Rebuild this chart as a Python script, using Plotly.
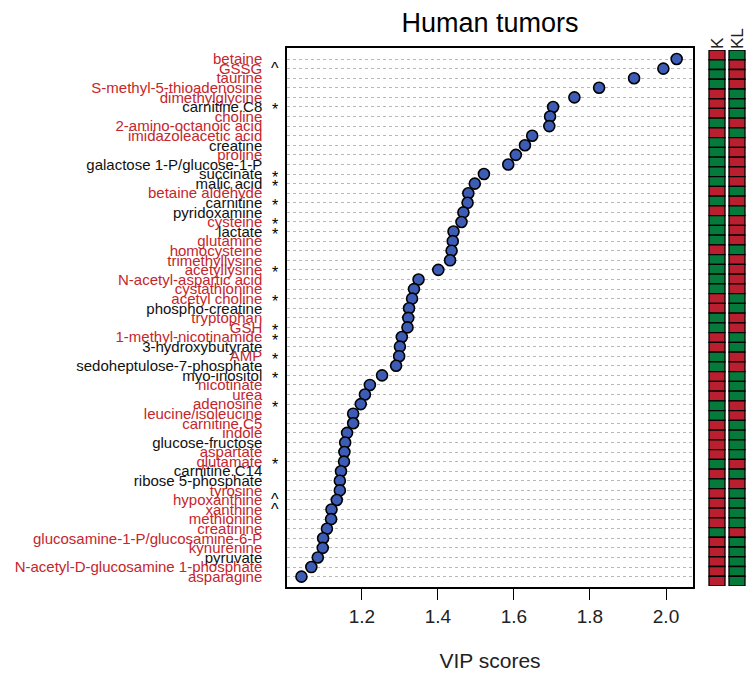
import plotly.graph_objects as go

# ---------------- data ----------------
metabolites = [
    "betaine", "GSSG", "taurine", "S-methyl-5-thioadenosine", "dimethylglycine",
    "carnitine.C8", "choline", "2-amino-octanoic acid", "imidazoleacetic acid", "creatine",
    "proline", "galactose 1-P/glucose-1-P", "succinate", "malic acid", "betaine aldehyde",
    "carnitine", "pyridoxamine", "cysteine", "lactate", "glutamine",
    "homocysteine", "trimethyllysine", "acetyllysine", "N-acetyl-aspartic acid", "cystathionine",
    "acetyl choline", "phospho-creatine", "tryptophan", "GSH", "1-methyl-nicotinamide",
    "3-hydroxybutyrate", "AMP", "sedoheptulose-7-phosphate", "myo-inositol", "nicotinate",
    "urea", "adenosine", "leucine/isoleucine", "carnitine.C5", "indole",
    "glucose-fructose", "aspartate", "glutamate", "carnitine.C14", "ribose 5-phosphate",
    "tyrosine", "hypoxanthine", "xanthine", "methionine", "creatinine",
    "glucosamine-1-P/glucosamine-6-P", "kynurenine", "pyruvate",
    "N-acetyl-D-glucosamine 1-phosphate", "asparagine",
]

vip_scores = [
    2.028, 1.993, 1.916, 1.824, 1.759,
    1.703, 1.695, 1.693, 1.648, 1.629,
    1.605, 1.585, 1.521, 1.497, 1.480,
    1.478, 1.467, 1.462, 1.441, 1.439,
    1.436, 1.432, 1.401, 1.349, 1.337,
    1.332, 1.324, 1.322, 1.320, 1.305,
    1.300, 1.298, 1.290, 1.253, 1.221,
    1.208, 1.197, 1.177, 1.177, 1.161,
    1.156, 1.154, 1.153, 1.145, 1.142,
    1.142, 1.134, 1.120, 1.119, 1.108,
    1.098, 1.097, 1.084, 1.067, 1.041,
]

# label colour group: "r" = red label, "k" = black label
label_group = [
    "r", "r", "r", "r", "r",
    "k", "r", "r", "r", "k",
    "r", "k", "k", "k", "r",
    "k", "k", "r", "k", "r",
    "r", "r", "r", "r", "r",
    "r", "k", "r", "r", "r",
    "k", "r", "k", "k", "r",
    "r", "r", "r", "r", "r",
    "k", "r", "r", "k", "k",
    "r", "r", "r", "r", "r",
    "r", "r", "k", "r", "r",
]

# significance marks next to the labels
marks = [
    "", "^", "", "", "",
    "*", "", "", "", "",
    "", "", "*", "*", "",
    "*", "", "*", "*", "",
    "", "", "*", "", "",
    "*", "", "", "*", "*",
    "", "*", "", "*", "",
    "", "*", "", "", "",
    "", "", "*", "", "",
    "", "^", "^", "", "",
    "", "", "", "", "",
]

# heat columns: 1 = red (higher), 0 = green
heat_columns = ["K", "KL"]
k_high = [
    1, 0, 0, 0, 1,
    1, 1, 0, 1, 0,
    0, 0, 0, 0, 1,
    0, 1, 0, 0, 0,
    1, 0, 0, 0, 0,
    1, 1, 0, 0, 1,
    1, 0, 0, 1, 1,
    1, 0, 0, 1, 1,
    1, 1, 0, 1, 0,
    1, 1, 1, 1, 0,
    1, 1, 1, 1, 1,
]
kl_high = [
    0, 1, 1, 1, 0,
    0, 0, 1, 0, 1,
    1, 1, 1, 1, 0,
    1, 0, 1, 1, 1,
    0, 1, 1, 1, 1,
    0, 0, 1, 1, 0,
    0, 1, 1, 0, 0,
    0, 1, 1, 0, 0,
    0, 0, 1, 0, 1,
    0, 0, 0, 0, 1,
    0, 0, 0, 0, 0,
]

x_ticks = [1.2, 1.4, 1.6, 1.8, 2.0]
x_tick_labels = ["1.2", "1.4", "1.6", "1.8", "2.0"]

# ---------------- styling ----------------
W, H = 754, 674
OFF = 8  # page body margin
RED_TXT = "#C5262C"
RED_CELL = "#B91F2E"
GREEN_CELL = "#067A3B"
DOT = "#3D5CB6"
FONT = "Liberation Sans, Arial, Helvetica, sans-serif"

n = len(metabolites)
rows = list(range(1, n + 1))


def fx(p):
    return (p - OFF) / W


def fy(p):
    return 1 - (p - OFF) / H


ticktext = [
    f'<span style="color:{RED_TXT if g == "r" else "#111111"}">{m}</span>'
    for m, g in zip(metabolites, label_group)
]

fig = go.Figure()

fig.add_trace(go.Scatter(
    x=vip_scores, y=rows, mode="markers",
    marker=dict(size=11, color=DOT, line=dict(color="black", width=1.6)),
    xaxis="x", yaxis="y", showlegend=False, hoverinfo="skip",
))

for col, vals in zip(heat_columns, [k_high, kl_high]):
    fig.add_trace(go.Bar(
        x=[col] * n, y=[1] * n, base=[r - 0.5 for r in rows],
        width=0.8,
        marker=dict(color=[RED_CELL if v else GREEN_CELL for v in vals],
                    line=dict(color="black", width=1.3)),
        xaxis="x2", yaxis="y2", showlegend=False, hoverinfo="skip",
    ))

annotations = []
for r, mk in zip(rows, marks):
    if mk:
        annotations.append(dict(
            x=fx(275), xref="paper", y=r, yref="y",
            text=mk, showarrow=False, xanchor="center", yanchor="middle",
            yshift=-3 if mk == "*" else 0,
            font=dict(size=16, color="black", family=FONT),
        ))

fig.update_layout(
    width=W, height=H,
    margin=dict(l=0, r=0, t=0, b=0, autoexpand=False),
    paper_bgcolor="white", plot_bgcolor="white",
    font=dict(family=FONT, color="black"),
    barmode="overlay",
    title=dict(text="Human tumors", x=fx(490), xanchor="center",
               y=fy(23), yanchor="middle", font=dict(size=27, color="black"),
               automargin=False),
    xaxis=dict(
        domain=[fx(287), fx(693)], range=[1.003, 2.071], anchor="y",
        automargin=False,
        tickvals=x_ticks, ticktext=x_tick_labels,
        ticks="outside", ticklen=11, tickwidth=1, tickcolor="black",
        tickfont=dict(size=19, color="#222222"),
        showline=True, mirror=True, linecolor="black", linewidth=1.5,
        showgrid=False, zeroline=False,
        title=dict(text="VIP scores", font=dict(size=21, color="#222222"), standoff=28),
    ),
    yaxis=dict(
        domain=[fy(587), fy(48)], range=[56.08, -0.15], anchor="x",
        automargin=False,
        tickvals=rows, ticktext=ticktext, ticks="",
        tickfont=dict(size=15), ticklabelstandoff=20,
        showgrid=True, gridcolor="#b8b8b8", gridwidth=1, griddash="3px,3px",
        showline=True, mirror=True, linecolor="black", linewidth=1.5,
        zeroline=False,
    ),
    xaxis2=dict(
        domain=[fx(707), fx(747)], anchor="y2", side="top",
        automargin=False,
        categoryorder="array", categoryarray=heat_columns,
        tickangle=-90, ticks="", tickfont=dict(size=17, color="#222222"),
        showline=False, showgrid=False, zeroline=False,
    ),
    yaxis2=dict(
        domain=[fy(586), fy(50)], range=[n + 0.5, 0.5], anchor="x2",
        automargin=False,
        visible=False, showgrid=False, zeroline=False,
    ),
    annotations=annotations,
)

fig.write_html("out.html")
